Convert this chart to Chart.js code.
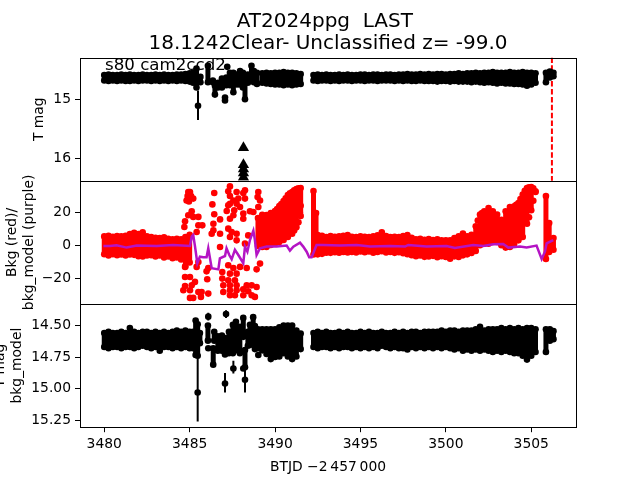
<!DOCTYPE html>
<html>
<head>
<meta charset="utf-8">
<title>AT2024ppg LAST</title>
<script src="https://cdn.jsdelivr.net/npm/chart.js@4"></script>
<style>
  html, body { margin: 0; background: #fff; }
  canvas { display: block; }
</style>
</head>
<body>
<canvas id="lc" width="640" height="480"></canvas>
<script>
// ticks
const xTicks = [3480, 3485, 3490, 3495, 3500, 3505];
const tTicks = [15, 16];
const bkgTicks = [20, 0, -20];
const resTicks = [14.5, 14.75, 15, 15.25];

// columns shared by the quiet stretches of the light curve
const colsA = [3480,3480.25,3480.5,3480.75,3481,3481.25,3481.5,3481.75,3482,3482.25,3482.5,3482.75,3483,3483.25,3483.5,3483.75,3484,3484.25,3484.5,3484.75,3485];
const colsB = [3489.25,3489.5,3489.75,3490,3490.25,3490.5,3490.75,3491,3491.25,3491.5];
const colsC = [3492.25,3492.5,3492.75,3493,3493.25,3493.5,3493.75,3494,3494.25,3494.5,3494.75,3495,
  3495.25,3495.5,3495.75,3496,3496.25,3496.5,3496.75,3497,3497.25,3497.5,3497.75,3498,
  3498.25,3498.5,3498.75,3499,3499.25,3499.5,3499.75,3500,3500.25,3500.5,3500.75,3501,
  3501.25,3501.5,3501.75,3502,3502.25,3502.5,3502.75,3503,3503.25,3503.5,3503.75,3504,
  3504.25,3504.5,3504.75,3505,3505.25];

// --- panel 1: T mag ---
const tX = [...colsA,
  3485.2,3485.4,3485.63,3486.07,3486.36,3486.48,3486.66,3486.89,3487.07,3487.15,3487.36,3487.56,3487.77,3487.95,3488.12,3488.24,3488.41,3488.62,3488.76,3488.94,
  ...colsB, ...colsC, 3505.86,3506.09,3506.3];
const tTop = [14.59,14.58,14.59,14.59,14.58,14.59,14.58,14.59,14.59,14.58,14.59,14.59,14.58,14.59,14.58,14.59,14.59,14.58,14.58,14.57,14.56,
  14.55,14.48,14.62,14.43,14.68,14.77,14.72,14.65,14.97,14.63,14.55,14.55,14.58,14.52,14.55,14.63,14.58,14.43,14.52,14.55,
  14.56,14.55,14.56,14.55,14.55,14.54,14.55,14.55,14.56,14.57,
  14.59,14.58,14.59,14.58,14.59,14.59,14.58,14.59,14.58,14.59,14.59,14.58,
  14.58,14.59,14.58,14.58,14.59,14.58,14.58,14.59,14.58,14.58,14.57,14.58,
  14.58,14.57,14.58,14.57,14.58,14.57,14.57,14.58,14.57,14.57,14.56,14.57,
  14.56,14.56,14.55,14.56,14.55,14.55,14.54,14.55,14.55,14.55,14.54,14.55,
  14.55,14.54,14.55,14.55,14.56,
  14.55,14.53,14.55];
const tBottom = [14.68,14.69,14.68,14.69,14.68,14.69,14.69,14.68,14.69,14.68,14.68,14.69,14.68,14.69,14.68,14.69,14.68,14.69,14.68,14.69,14.70,
  14.72,14.80,14.71,14.71,14.71,14.92,14.80,14.80,15.02,14.76,14.76,14.88,14.75,14.75,14.80,15.00,14.72,14.68,14.71,14.74,
  14.72,14.73,14.74,14.75,14.75,14.76,14.75,14.76,14.75,14.74,
  14.68,14.69,14.68,14.68,14.69,14.68,14.69,14.68,14.68,14.69,14.68,14.68,
  14.69,14.68,14.68,14.69,14.68,14.68,14.68,14.69,14.68,14.69,14.68,14.69,
  14.69,14.68,14.69,14.69,14.69,14.70,14.69,14.69,14.70,14.69,14.70,14.70,
  14.70,14.71,14.70,14.71,14.72,14.71,14.72,14.73,14.72,14.73,14.73,14.74,
  14.74,14.75,14.77,14.75,14.72,
  14.71,14.63,14.61];
const tStrayX = [3485.49, 3487.2];
const tStrayY = [15.11, 14.45];
const tBarX = [3485.49];
const tBarLow = [14.85];
const tBarHigh = [15.35];
const limitX = [3488.15, 3488.15, 3488.15, 3488.15, 3488.15];
const limitY = [15.82, 16.11, 16.18, 16.25, 16.32];
const eventX = [3506.21, 3506.21];
const eventY = [14.29, 16.39];

// --- panel 2: background ---
const bkgX = [...colsA, 3489, ...colsB, ...colsC.slice(0, 1), 3492.4, ...colsC.slice(1), 3505.86, 3506.05, 3506.3];
const bkgTop = [5.4,5.8,5.2,5.6,5.4,5.8,6.8,7.6,6.8,7.8,5.4,5.0,4.6,4.4,4.8,4.0,3.6,4.0,3.6,5.0,6.4,
  16.5,18.5,18.4,19.6,20.8,23.8,26.8,30.5,32.3,34.1,34.7,
  32.9,19.6,6.2,5.8,5.0,5.6,5.2,5.4,5.8,6.2,5.2,5.0,5.4,
  5.2,5.0,5.4,6.0,7.9,5.6,5.0,5.2,5.0,5.6,6.2,4.6,
  3.6,4.0,3.4,3.8,3.2,3.6,3.0,3.0,3.0,4.4,5.4,7.1,
  5.4,6.4,11.5,18.6,20.6,22.6,20.6,18.6,15.5,20.6,23.2,23.6,
  25.6,30.7,34.7,35.3,32.7,
  29.9,13.5,4.4];
const bkgBottom = [-5.4,-6.2,-5.4,-6.0,-5.6,-6.2,-5.6,-5.8,-6.6,-6.8,-6.2,-6.0,-6.8,-6.2,-7.4,-6.8,-7.8,-7.4,-8.6,-12.8,-10.4,
  -0.4,-1,-1,0.2,1,2,3.2,5,7,11,17.8,
  -5.6,-5.2,-5.5,-5.2,-4.5,-4.6,-4.2,-4.5,-4.0,-4.4,-4.0,-4.4,-3.8,
  -4.2,-3.8,-4.5,-4.0,-3.6,-4.4,-4.0,-4.6,-4.2,-4.8,-5.4,-6.0,
  -6.6,-6.2,-7.0,-6.8,-6.4,-7.2,-6.6,-7.1,-8.1,-6.7,-7.1,-6.1,
  -5.5,-4.7,-3.4,0,1,1,2,2,0,-1.4,-1,1,
  3,5,13.1,21.2,32.3,
  -8.3,-4,-2.7];
const bkgStrayX = [3484.92,3485.02,3484.88,3485.08,3484.82,3484.96,3485.21,3486.44,3486.33,3487.36,3487.26,3487.36,3487.56,3487.36,3487.75,3488.24,3488.14,3487.85,3487.75,3488.24,
  3487.95,3487.26,3487.17,3487.61,3487.56,3487.36,3489.02,3488.98,3489.12,3489.02,3488.53,3488.73,3488.14,3488.14,3486.44,3486.78,3486.39,3485.51,3485.12,3484.92,
  3485.21,3484.73,3484.69,3485.51,3485.74,3485.41,3486.39,3486.29,3486.78,3487.26,3487.46,3487.75,3487.36,3487.75,3486.78,3488.24,3488.43,3489.12,3489.12,
  3485.51,3485.41,3484.73,3484.73,3485.02,3485.31,3485.12,3484.73,3484.63,3485.02,3485.51,3485.70,3485.02,3485.21,3485.66,3486.09,3486.03,3486.09,3485.99,
  3486.91,3486.91,3486.97,3486.97,3487.26,3487.56,3487.95,3488.34,3488.92,3489.12,3487.36,3487.75,3487.26,3487.65,3487.36,3487.75,3487.36,3487.75,3487.36,3487.65,
  3488.14,3488.34,3488.63,3488.43,3488.14,3488.63,3488.82,3488.92,
  3490.12,3490.37,3490.62,3490.87,3491.12,3491.37,3491.12,3491.37,3491.45,3491.5,
  3501.87,3502.12,3504.12,3504.37,3504.62,3504.87,3505.12,3504.87,3505.12];
const bkgStrayY = [32.3,32.3,29.9,29.9,27.2,26.6,28.3,31.7,24.8,35.7,32.7,29.9,27.2,25.2,32.3,33.3,31.7,28.3,25.2,28.3,
  23.2,24.2,20.8,21.2,18.2,16.1,32.3,29.3,27.2,23.2,20.6,20.2,19.2,16.1,18.8,15.7,13.1,17.2,20.6,18.2,
  17.2,14.5,11.1,12.1,12.1,8.1,9.1,7.0,7.0,10.1,8.1,7.0,5.0,3.0,-1.0,1.0,6.0,13.1,15.1,
  -10.1,-13.1,-13.1,-19.2,-19.2,-22.2,-24.3,-24.7,-27.3,-27.3,-28.3,-28.3,-31.9,-31.9,-31.3,-29.3,-20.6,-13.8,-15.8,
  -16.2,-20.2,-24.3,-28.3,-12.1,-13.8,-13.1,-13.8,-14.6,-11.1,-17.2,-17.2,-21.2,-21.2,-24.3,-24.3,-27.3,-27.3,-30.3,-30.3,
  -26.7,-24.3,-24.3,-27.9,-30.3,-30.3,-31.3,-25.3,
  22,25,28.5,31.5,33.3,34.5,9,14,20,24,
  15,19.6,24.6,28,33,35.2,34.5,17,27];
const modelX = [3479.95,3480.33,3480.72,3481.31,3481.9,3483.07,3484.04,3485.02,3485.12,3485.21,3485.31,3485.45,3485.6,3485.8,3485.99,3486.09,3486.19,3486.29,3486.68,3486.77,
  3487.07,3487.16,3487.32,3487.46,3487.65,3487.85,3488.14,3488.24,3488.38,3488.53,3488.73,3488.82,3488.92,3489.12,3489.51,3490.09,3490.68,3490.87,3491.07,3491.46,
  3491.65,3491.85,3492,3492.14,3492.43,3492.82,3493.8,3494.78,3495.56,3496.73,3497.61,3497.8,3498.87,3500.05,3500.53,3501.61,3502.19,3502.78,3503.36,3503.66,
  3504.34,3504.73,3505.31,3505.61,3505.8,3505.9,3506.29];
const modelY = [-0.4,-0.4,0,-1.4,-0.2,-0.4,0.2,-0.4,5.2,6.2,-0.4,-10.9,-6.9,-7.3,-7.3,-1.8,-7.9,-13.9,-14.6,-7.9,
  -6.5,-1.8,-5.9,-8.5,-2.8,-5.9,-10.9,-0.8,-3.9,3.2,8.9,3.2,-5.9,-1.8,-0.8,-0.8,-0.2,-3.2,-0.8,1.6,
  -0.8,-3.9,-7.3,-7.3,0.2,0.2,-0.2,0.2,-0.8,-0.4,-0.8,0.2,-0.8,-0.4,-1.6,0.2,-0.4,0.6,0.8,-1.4,
  -0.8,-1.4,-0.2,-8.3,-3.9,1.2,3.2];

// --- panel 3: mag with background model ---
const resX = [...colsA,
  3485.2,3485.35,3485.47,3485.6,3486.07,3486.38,3486.44,3486.65,3486.89,3487.07,3487.3,3487.53,3487.71,3487.94,3488.14,3488.24,3488.41,3488.53,3488.72,3488.82,3489,
  ...colsB, ...colsC, 3505.86,3506.09,3506.3];
const resTop = [14.56,14.55,14.56,14.56,14.55,14.56,14.52,14.55,14.56,14.55,14.55,14.56,14.55,14.56,14.55,14.56,14.55,14.54,14.55,14.54,14.55,
  14.55,14.46,14.49,14.56,14.50,14.68,14.55,14.585,14.58,14.60,14.55,14.495,14.47,14.51,14.44,14.695,14.55,14.495,14.434,14.505,14.53,
  14.53,14.53,14.53,14.53,14.515,14.50,14.50,14.50,14.54,14.564,
  14.56,14.55,14.56,14.55,14.56,14.56,14.55,14.56,14.55,14.56,14.56,14.55,
  14.56,14.55,14.56,14.56,14.55,14.56,14.56,14.55,14.56,14.55,14.56,14.55,
  14.55,14.56,14.55,14.55,14.55,14.55,14.54,14.55,14.54,14.54,14.55,14.54,
  14.54,14.54,14.53,14.51,14.54,14.53,14.53,14.53,14.52,14.53,14.52,14.53,
  14.52,14.53,14.52,14.52,14.53,
  14.53,14.53,14.545];
const resBottom = [14.67,14.68,14.67,14.67,14.68,14.67,14.67,14.68,14.67,14.66,14.67,14.68,14.67,14.70,14.67,14.67,14.68,14.67,14.68,14.67,14.68,
  14.68,14.734,14.74,14.64,14.62,14.81,14.62,14.70,14.70,14.73,14.72,14.72,14.695,14.72,14.59,14.83,14.66,14.655,14.59,14.687,14.68,
  14.697,14.726,14.766,14.75,14.745,14.72,14.745,14.766,14.745,14.687,
  14.67,14.68,14.67,14.67,14.68,14.67,14.68,14.67,14.67,14.68,14.67,14.68,
  14.67,14.68,14.67,14.68,14.66,14.67,14.68,14.67,14.68,14.68,14.69,14.67,
  14.68,14.67,14.68,14.67,14.68,14.67,14.68,14.67,14.68,14.69,14.68,14.70,
  14.69,14.70,14.69,14.70,14.69,14.70,14.71,14.70,14.71,14.70,14.71,14.72,
  14.72,14.74,14.77,14.74,14.71,
  14.71,14.62,14.608];
const resStrayX = [3485.47,3486.09,3486.09,3487.07,3487.13,3487.56,3488.24,3488.14,3489.02];
const resStrayY = [15.03,14.43,14.68,14.96,14.41,14.84,14.93,14.84,14.734];
const resBarX = [3485.47,3486.09,3487.07,3487.13,3487.56,3488.24];
const resBarLow = [14.75,14.40,14.876,14.38,14.78,14.84];
const resBarHigh = [15.26,14.46,15.03,14.44,14.88,15.03];

const BLACK = '#000000';
const RED = '#ff0000';
const PURPLE = '#b414c4';
const FONT = 'DejaVu Sans';
const DOT = 3.3;

// vertical bars, with a null between them so the line breaks
function bars(xs, low, high) {
  return xs.flatMap((x, i) => [{x: x, y: low[i]}, {x: x, y: high[i]}, {x: x, y: null}]);
}
function points(xs, ys) {
  return xs.map((x, i) => ({x: x, y: ys[i]}));
}
function barSet(xs, low, high, color, width, axis) {
  return {data: bars(xs, low, high), yAxisID: axis, showLine: true, borderColor: color, borderWidth: width,
    pointRadius: 0, spanGaps: false, order: 3};
}
function dotSet(xs, ys, color, axis) {
  return {data: points(xs, ys), yAxisID: axis, showLine: false, backgroundColor: color,
    pointRadius: DOT, pointBorderWidth: 0, order: 2};
}

function yAxis(min, max, reverse, ticks, label, labelPad, format) {
  return {
    type: 'linear', stack: 'panels', stackWeight: 1, position: 'left',
    min: min, max: max, reverse: reverse,
    border: {display: false},
    grid: {drawOnChartArea: false, drawTicks: true, tickLength: 5, color: BLACK, lineWidth: 1},
    afterBuildTicks: s => { s.ticks = ticks.map(v => ({value: v})); },
    afterFit: s => { s.width = 80; },
    ticks: {color: BLACK, font: {family: FONT, size: 13.89}, padding: 4, autoSkip: false, callback: format},
    title: {display: true, text: label, color: BLACK, padding: {top: labelPad, bottom: 0},
      font: {family: FONT, size: 13.89, lineHeight: 1.2}}
  };
}

const panelFrame = {
  id: 'panelFrame',
  afterDatasetsDraw(chart) {
    const ctx = chart.ctx;
    const x = chart.scales.x;
    ctx.save();
    ctx.strokeStyle = BLACK;
    ctx.lineWidth = 1;
    ['yT', 'yBkg', 'yRes'].forEach(id => {
      const s = chart.scales[id];
      const top = Math.round(s.top) + 0.5;
      const bottom = Math.round(s.bottom) + 0.5;
      ctx.strokeRect(Math.round(x.left) + 0.5, top, Math.round(x.right) - Math.round(x.left), bottom - top);
    });
    ctx.fillStyle = BLACK;
    ctx.font = '16.67px "DejaVu Sans"';
    ctx.textBaseline = 'alphabetic';
    ctx.fillText('s80 cam2ccd2', 105, 70);
    ctx.restore();
  }
};

new Chart(document.getElementById('lc').getContext('2d'), {
  type: 'scatter',
  data: {
    datasets: [
      {data: points(eventX, eventY), yAxisID: 'yT', showLine: true, borderColor: RED, borderWidth: 2,
        borderDash: [5.5, 2.4], pointRadius: 0, order: 5},
      barSet(tX, tTop, tBottom, BLACK, 5, 'yT'),
      dotSet(tX, tTop, BLACK, 'yT'),
      dotSet(tX, tBottom, BLACK, 'yT'),
      barSet(tBarX, tBarLow, tBarHigh, BLACK, 2, 'yT'),
      dotSet(tStrayX, tStrayY, BLACK, 'yT'),
      {data: points(limitX, limitY), yAxisID: 'yT', showLine: false, pointStyle: 'triangle', pointRadius: 6.5,
        pointBorderWidth: 0, backgroundColor: BLACK, order: 2},

      barSet(bkgX, bkgTop, bkgBottom, RED, 5, 'yBkg'),
      dotSet(bkgX, bkgTop, RED, 'yBkg'),
      dotSet(bkgX, bkgBottom, RED, 'yBkg'),
      dotSet(bkgStrayX, bkgStrayY, RED, 'yBkg'),
      {data: points(modelX, modelY), yAxisID: 'yBkg', showLine: true, borderColor: PURPLE, borderWidth: 2.5,
        pointRadius: 0, order: 1},

      barSet(resX, resTop, resBottom, BLACK, 5, 'yRes'),
      dotSet(resX, resTop, BLACK, 'yRes'),
      dotSet(resX, resBottom, BLACK, 'yRes'),
      barSet(resBarX, resBarLow, resBarHigh, BLACK, 2, 'yRes'),
      dotSet(resStrayX, resStrayY, BLACK, 'yRes')
    ]
  },
  options: {
    responsive: false,
    animation: false,
    events: [],
    layout: {padding: {left: 0, right: 64, top: 0, bottom: 0}},
    plugins: {
      legend: {display: false},
      tooltip: {enabled: false},
      title: {
        display: true,
        fullSize: false,
        text: ['AT2024ppg  LAST ', '18.1242Clear- Unclassified z= -99.0'],
        color: BLACK,
        font: {family: FONT, size: 20, weight: 'normal', lineHeight: 1.1},
        padding: {top: 11, bottom: 2.6}
      }
    },
    scales: {
      x: {
        type: 'linear', position: 'bottom', min: 3478.58, max: 3507.62, offset: false,
        border: {display: false},
        grid: {drawOnChartArea: false, drawTicks: true, tickLength: 5, color: BLACK, lineWidth: 1},
        afterBuildTicks: s => { s.ticks = xTicks.map(v => ({value: v})); },
        afterFit: s => { s.height = 52.8; },
        ticks: {color: BLACK, font: {family: FONT, size: 13.89}, padding: 4, maxRotation: 0, autoSkip: false,
          callback: v => String(v)},
        title: {display: true, text: 'BTJD \u22122\u2009457\u2009000', color: BLACK, padding: {top: 0, bottom: 4},
          font: {family: FONT, size: 13.89}}
      },
      yRes: yAxis(14.33, 15.305, true, resTicks, ['T mag', 'bkg_model'], -7.5, v => v.toFixed(2)),
      yBkg: yAxis(-35.6, 39.1, false, bkgTicks, ['Bkg (red)/', 'bkg_model (purple)'], 4, v => String(v).replace('-', '\u2212')),
      yT: yAxis(14.293, 16.381, true, tTicks, 'T mag', 31, v => String(v))
    }
  },
  plugins: [panelFrame]
});
</script>
</body>
</html>
